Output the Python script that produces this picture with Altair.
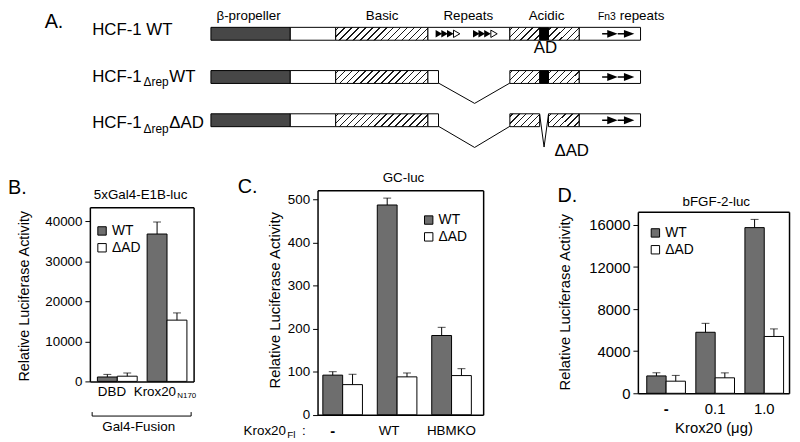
import altair as alt
import pandas as pd

W, H = 792, 434
FONT = "Liberation Sans"
GRAY = "#6e6e6e"
DARK = "#474747"


def g(v):
    """reference-image pixel -> chart group coordinate (page margin is 8px)"""
    return v - 8


# ---------------- Panel A : HCF-1 constructs (residue coordinates) ----------------
constructs = ["HCF-1 WT", "HCF-1ΔrepWT", "HCF-1ΔrepΔAD"]
seg_row = [0, 0, 0, 0, 0, 0, 0, 0,
           1, 1, 1, 1, 1, 1, 1, 1,
           2, 2, 2, 2, 2, 2, 2]
seg_start = [0, 375, 591, 1027, 1416, 1557, 1599, 1744,
             0, 375, 591, 1027, 1416, 1557, 1599, 1744,
             0, 375, 591, 1027, 1416, 1599, 1744]
seg_end = [375, 591, 1027, 1416, 1557, 1599, 1744, 2035,
           375, 591, 1027, 1078, 1557, 1599, 1744, 2035,
           375, 591, 1027, 1078, 1557, 1744, 2035]
seg_kind = ["propeller", "plain", "basic", "plain", "acidic", "AD", "acidic", "plain",
            "propeller", "plain", "basic", "plain", "acidic", "AD", "acidic", "plain",
            "propeller", "plain", "basic", "plain", "acidic", "acidic", "plain"]

repeat_pos = [1080, 1107, 1134, 1164, 1257, 1283, 1310, 1341]
repeat_open = [False, False, False, True, False, False, False, True]

fn3_tail = [1853, 1927]
fn3_head = [1902, 1981]

deletion_row = [1, 2, 2]
deletion_x = [[1078, 1249, 1416], [1078, 1249, 1416], [1557, 1578, 1599]]
deletion_dy = [[0.14, 0.61, 0.14], [0.14, 0.63, 0.14], [-0.14, 0.62, -0.14]]

# ---------------- Panels B, C, D : luciferase assays ----------------
series = ["WT", "ΔAD"]

b_cats = ["DBD", "Krox20N170"]
b_wt = [1100, 36800]
b_wt_err = [650, 3000]
b_dad = [1300, 15300]
b_dad_err = [800, 1800]
b_ticks = [0, 10000, 20000, 30000, 40000]

c_cats = ["-", "WT", "HBMKO"]
c_wt = [92, 487, 184]
c_wt_err = [8, 16, 19]
c_dad = [70, 88, 91]
c_dad_err = [24, 9, 16]
c_ticks = [0, 100, 200, 300, 400, 500]

d_cats = ["-", "0.1", "1.0"]
d_wt = [1650, 5800, 15750]
d_wt_err = [300, 850, 780]
d_dad = [1150, 1470, 5400]
d_dad_err = [550, 470, 720]
d_ticks = [0, 4000, 8000, 12000, 16000]

# ======================= Panel A =======================
A_LEFT, A_RIGHT = 213, 647
a_x = alt.Scale(domain=[0, 2035], range=[g(A_LEFT), g(A_RIGHT)], nice=False, zero=False)
a_y = alt.Scale(domain=[-0.5, 2.5], range=[g(5), g(146)], nice=False, zero=False)
KPX = (A_RIGHT - A_LEFT) / 2035.0

seg_df = pd.DataFrame({"row": seg_row, "start": seg_start, "end": seg_end, "kind": seg_kind})


def hatch(wpx, hpx=13.0, period=7.0, lw=1.5, ink="#1a1a1a"):
    L = wpx + hpx
    c = L / (wpx ** 2 + hpx ** 2)
    stops = [alt.GradientStop(offset=0, color="white")]
    a = 2.0
    while a + lw < L:
        o1, o2 = round(a / L, 4), round((a + lw) / L, 4)
        stops += [alt.GradientStop(offset=o1, color="white"), alt.GradientStop(offset=o1, color=ink),
                  alt.GradientStop(offset=o2, color=ink), alt.GradientStop(offset=o2, color="white")]
        a += period
    stops.append(alt.GradientStop(offset=1, color="white"))
    return alt.LinearGradient(gradient="linear", stops=stops, x1=0, y1=0,
                              x2=round(c * wpx, 5), y2=round(c * hpx, 5))


def seg_layer(kind, fill):
    return alt.Chart(seg_df).transform_filter(alt.datum.kind == kind).mark_bar(
        orient="horizontal", size=13, fill=fill, stroke="black", strokeWidth=1
    ).encode(
        x=alt.X("start:Q", scale=a_x, axis=None), x2="end:Q",
        y=alt.Y("row:Q", scale=a_y, axis=None))


basic_w = (1027 - 591) * KPX
acid_w = (1557 - 1416) * KPX

rep_df = pd.DataFrame({"pos": repeat_pos, "open": repeat_open, "row": [0] * len(repeat_pos)})
rep_filled = alt.Chart(rep_df).transform_filter("!datum.open").mark_point(
    shape="triangle-right", filled=True, size=60, color="black", opacity=1
).encode(x=alt.X("pos:Q", scale=a_x, axis=None), y=alt.Y("row:Q", scale=a_y, axis=None))
rep_empty = alt.Chart(rep_df).transform_filter("datum.open").mark_point(
    shape="triangle-right", filled=False, size=55, color="black", strokeWidth=1, opacity=1
).encode(x=alt.X("pos:Q", scale=a_x, axis=None), y=alt.Y("row:Q", scale=a_y, axis=None))

arr_df = pd.DataFrame([{"row": r, "tail": t, "head": h}
                       for r in range(len(constructs)) for t, h in zip(fn3_tail, fn3_head)])
shafts = alt.Chart(arr_df).mark_rule(color="black", strokeWidth=1.5).encode(
    x=alt.X("tail:Q", scale=a_x, axis=None), x2="head:Q", y=alt.Y("row:Q", scale=a_y, axis=None))
heads = alt.Chart(arr_df).mark_point(
    shape="M-1,-0.75L1,0L-1,0.75Z", filled=True, size=110, color="black", opacity=1
).encode(x=alt.X("head:Q", scale=a_x, axis=None), y=alt.Y("row:Q", scale=a_y, axis=None))

del_df = pd.DataFrame([{"d": i, "k": k, "x": deletion_x[i][k], "yy": deletion_row[i] + deletion_dy[i][k]}
                       for i in range(len(deletion_row)) for k in range(3)])
del_lines = alt.Chart(del_df).mark_line(color="black", strokeWidth=1).encode(
    x=alt.X("x:Q", scale=a_x, axis=None), y=alt.Y("yy:Q", scale=a_y, axis=None),
    detail="d:N", order="k:O")

panelA = alt.layer(
    seg_layer("plain", "white"), seg_layer("propeller", DARK), seg_layer("AD", "black"),
    seg_layer("basic", hatch(basic_w)), seg_layer("acidic", hatch(acid_w)),
    rep_filled, rep_empty, shafts, heads, del_lines)


# ======================= bar panels =======================
def axis_kw(**kw):
    base = dict(grid=False, title=None, domainColor="black", domainWidth=1.5, tickColor="black",
                labelColor="black", labelFont=FONT)
    base.update(kw)
    return alt.Axis(**base)


def bar_panel(cats, wt, wt_err, dad, dad_err, frame, ymax, yticks, pad, legend_xy,
              ylab_size=13.5, bottom_axis=None):
    left, right, top, bottom = frame
    n = len(cats)
    df = pd.DataFrame({"cat": cats + cats, "series": [series[0]] * n + [series[1]] * n,
                       "value": wt + dad, "err": wt_err + dad_err})
    df["hi"] = df["value"] + df["err"]
    pi, po, al = pad
    xs = alt.Scale(domain=cats, range=[g(left), g(right)], paddingInner=pi, paddingOuter=po, align=al)
    ys = alt.Scale(domain=[0, ymax], range=[g(bottom), g(top)], nice=False, zero=True)
    xo = alt.Scale(domain=series, paddingInner=0, paddingOuter=0)
    fs = alt.Scale(domain=series, range=[GRAY, "white"])
    if bottom_axis is None:
        bottom_axis = axis_kw(orient="bottom", offset=g(bottom) - H, labels=False, ticks=False)
    left_axis = axis_kw(orient="left", offset=-g(left), values=yticks, format="d", tickSize=5,
                        tickWidth=1, labelPadding=3, labelFontSize=ylab_size, labelOverlap=False)
    top_axis = axis_kw(orient="top", offset=-g(top), labels=False, ticks=False)
    right_axis = axis_kw(orient="right", offset=g(right) - W, labels=False, ticks=False)
    lx, ly = legend_xy
    legend = alt.Legend(orient="none", legendX=g(lx), legendY=g(ly), title=None, symbolType="square",
                        symbolSize=72, symbolStrokeColor="black", symbolStrokeWidth=1,
                        labelFont=FONT, labelFontSize=14, labelColor="black", padding=0,
                        rowPadding=3, labelOffset=3, symbolOpacity=1)
    base = alt.Chart(df)
    xenc = alt.X("cat:N", scale=xs, axis=None)
    xoff = alt.XOffset("series:N", scale=xo)
    bars = base.mark_bar(stroke="black", strokeWidth=1).encode(
        x=alt.X("cat:N", scale=xs, axis=bottom_axis),
        xOffset=xoff,
        y=alt.Y("value:Q", scale=ys, axis=left_axis, stack=None),
        fill=alt.Fill("series:N", scale=fs, legend=legend))
    err = base.mark_rule(color="black", strokeWidth=1).encode(
        x=xenc, xOffset=xoff, y=alt.Y("value:Q", scale=ys, axis=None), y2="hi:Q")
    cap = base.mark_tick(color="black", thickness=1, size=8).encode(
        x=xenc, xOffset=xoff, y=alt.Y("hi:Q", scale=ys, axis=None))
    frame_l = base.mark_point(opacity=0).encode(
        x=alt.X("cat:N", scale=xs, axis=top_axis),
        y=alt.Y("value:Q", scale=ys, axis=right_axis))
    return alt.layer(bars, err, cap, frame_l).resolve_axis(x="independent", y="independent")


panelB = bar_panel(b_cats, b_wt, b_wt_err, b_dad, b_dad_err, frame=(90.7, 195.5, 207, 383),
                   ymax=43500, yticks=b_ticks, pad=(0.2, 0.143, 0.53), legend_xy=(96, 224))
panelC = bar_panel(c_cats, c_wt, c_wt_err, c_dad, c_dad_err, frame=(320.7, 488, 190, 416.7),
                   ymax=521, yticks=c_ticks, pad=(0.2727, 0.157, 0.31), legend_xy=(426, 213))
d_bottom_axis = axis_kw(orient="bottom", offset=g(395) - H, labels=True, ticks=False, labelFontSize=15,
                        labelFontWeight=alt.condition("datum.value == '-'", alt.value("bold"),
                                                      alt.value("normal")),
                        labelPadding=8, labelAngle=0, title="Krox20 (μg)", titleFont=FONT,
                        titleFontSize=15, titleFontWeight="normal", titleColor="black", titlePadding=5)
panelD = bar_panel(d_cats, d_wt, d_wt_err, d_dad, d_dad_err, frame=(644.3, 797, 211.7, 395),
                   ymax=17250, yticks=d_ticks, pad=(0.212, 0.146, 0.62), legend_xy=(655, 226),
                   ylab_size=15, bottom_axis=d_bottom_axis)


# ======================= annotations =======================
def label(s, x, y, size, align="left", angle=0, weight="normal"):
    return alt.Chart(alt.InlineData(values=[{"t": s}])).mark_text(
        align=align, baseline="middle", font=FONT, fontSize=size, color="black", angle=angle,
        fontWeight=weight
    ).encode(x=alt.value(g(x)), y=alt.value(g(y)), text="t:N")


def stroke(x1, y1, x2, y2, w=1):
    return alt.Chart(alt.InlineData(values=[{"t": 0}])).mark_rule(color="black", strokeWidth=w).encode(
        x=alt.value(g(x1)), y=alt.value(g(y1)), x2=alt.value(g(x2)), y2=alt.value(g(y2)))


notes = [
    label("A.", 45, 19.5, 20),
    label("β-propeller", 251, 14, 13.5, "center"),
    label("Basic", 386, 14, 13.5, "center"),
    label("Repeats", 473, 14, 13.5, "center"),
    label("Acidic", 552, 14, 13.5, "center"),
    label("Fn3", 604, 15, 10.5),
    label("repeats", 626, 14, 13.5),
    label("HCF-1 WT", 93, 28.5, 17),
    label("HCF-1", 93, 75.5, 17), label("Δrep", 145, 81, 12), label("WT", 171, 75.5, 17),
    label("HCF-1", 93, 122.5, 17), label("Δrep", 145, 128, 12), label("ΔAD", 171, 122.5, 17),
    label("AD", 551, 46, 17, "center"),
    label("ΔAD", 560, 150, 17),
    label("B.", 8, 188, 20),
    label("5xGal4-E1B-luc", 142, 195, 13.5, "center"),
    label("Relative Luciferase Activity", 25, 297, 14.5, "center", 270),
    label("DBD", 113, 394, 13.5, "center"),
    label("Krox20", 135, 394, 13.5), label("N170", 179, 397.5, 8),
    stroke(93, 418, 193, 418), stroke(93, 414, 93, 418), stroke(193, 414, 193, 418),
    label("Gal4-Fusion", 140, 429.5, 13.5, "center"),
    label("C.", 240, 187, 20),
    label("GC-luc", 407.5, 178, 13.5, "center"),
    label("Relative Luciferase Activity", 278, 301, 15, "center", 270),
    label("Krox20", 246, 433, 13.5), label("Fl", 290, 437, 10), label(":", 305, 433, 13.5),
    label("-", 336, 433, 15, "center", weight="bold"), label("WT", 393, 433, 13.5, "center"),
    label("HBMKO", 456, 433, 13.5, "center"),
    label("D.", 563, 196, 20),
    label("bFGF-2-luc", 723.5, 201.5, 13.5, "center"),
    label("Relative Luciferase Activity", 571, 303, 15, "center", 270),
]

chart = alt.layer(panelA, panelB, panelC, panelD, *notes).resolve_scale(
    x="independent", y="independent", xOffset="independent", fill="independent"
).properties(
    width=W, height=H, padding=0, autosize=alt.AutoSizeParams(type="none")
).configure_view(stroke=None)

chart.save("out.html", embed_options={"renderer": "svg", "actions": False})
